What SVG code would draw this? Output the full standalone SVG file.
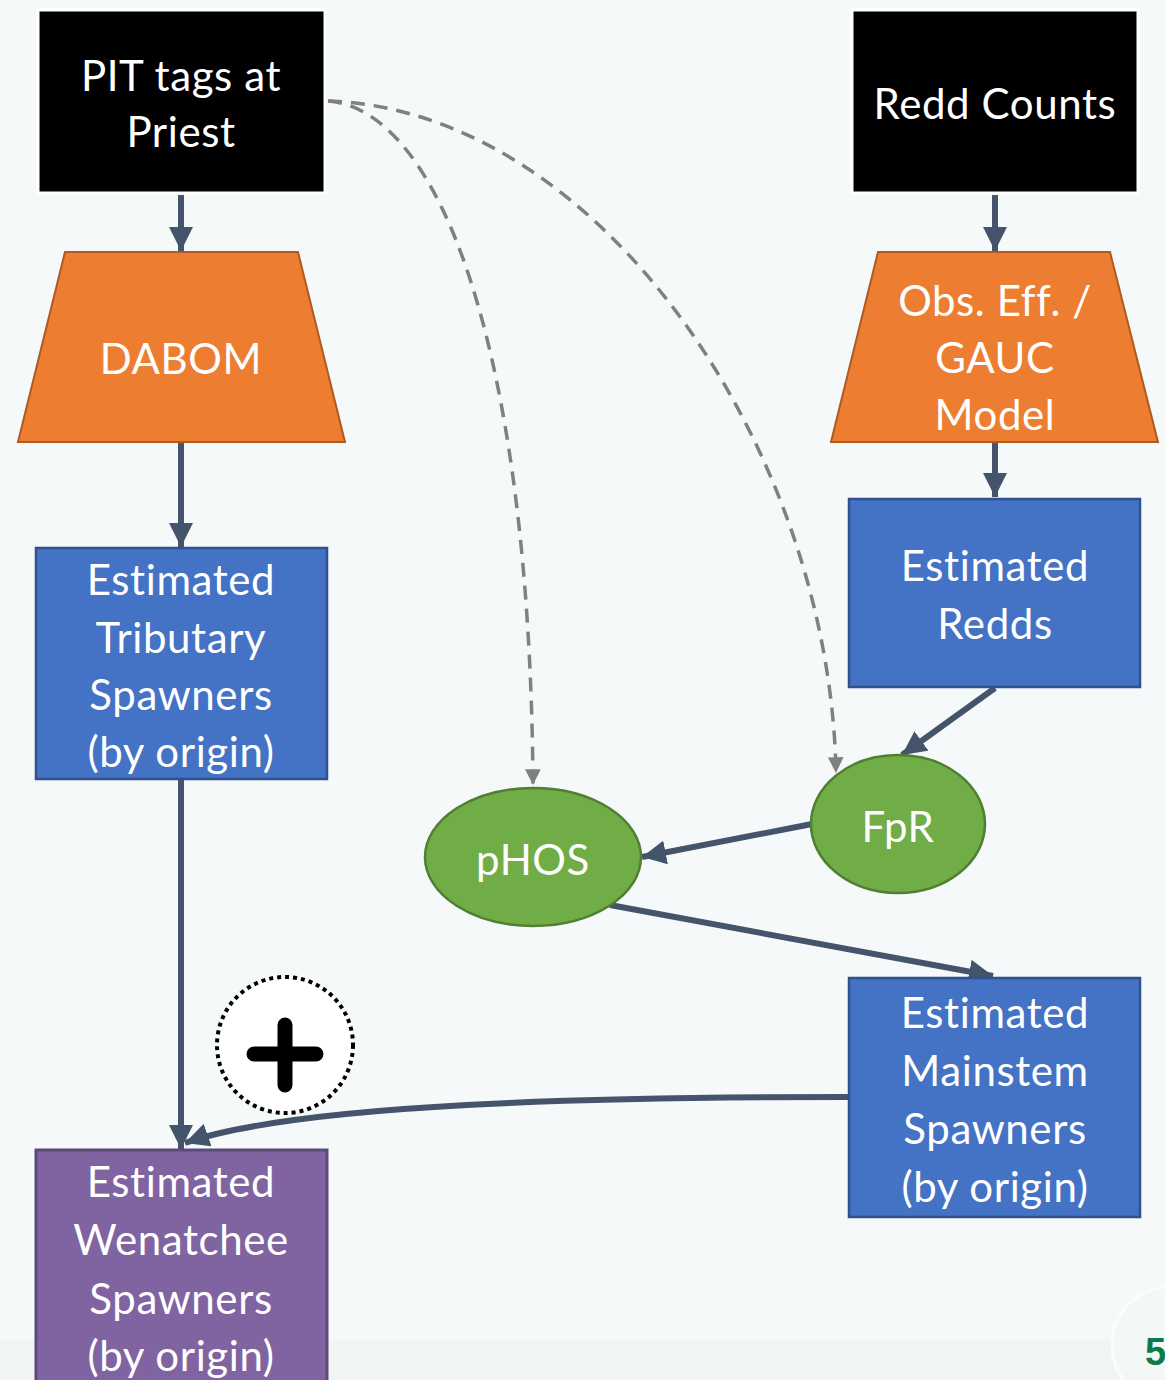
<svg xmlns="http://www.w3.org/2000/svg" width="1165" height="1380" viewBox="0 0 1165 1380">
<defs>
<marker id="ah" viewBox="0 0 10 10" refX="10" refY="5" markerWidth="4" markerHeight="4" orient="auto" markerUnits="strokeWidth"><path d="M0,0 L10,5 L0,10 z" fill="#44546a"/></marker>
<marker id="ahg" viewBox="0 0 10 10" refX="10" refY="5" markerWidth="4.5" markerHeight="4.5" orient="auto" markerUnits="strokeWidth"><path d="M0,0 L10,5 L0,10 z" fill="#808080"/></marker>
<style>
.t{font-family:Lato,"Open Sans","Liberation Sans",sans-serif;font-size:42px;letter-spacing:0.6px;fill:#fff;text-anchor:middle;dominant-baseline:central}
.c{stroke:#44546a;stroke-width:6;fill:none;marker-end:url(#ah)}
.d{stroke:#808080;stroke-width:3.5;fill:none;stroke-dasharray:14 9;marker-end:url(#ahg)}
.blk{fill:#000;stroke:#fff;stroke-width:3}
.org{fill:#ed7d31;stroke:#ae5a21;stroke-width:2}
.blu{fill:#4472c4;stroke:#2f528f;stroke-width:2.5}
.grn{fill:#70ad47;stroke:#507e32;stroke-width:2.5}
.pur{fill:#8064a2;stroke:#5c4a7a;stroke-width:3}
</style>
</defs>
<rect width="1165" height="1380" fill="#f5f9fa"/>
<rect y="1340" width="1165" height="40" fill="#f0f5f4"/>
<circle cx="1170" cy="1345" r="58" fill="#f3f8f7" stroke="#fbfdfd" stroke-width="3"/>
<text x="1145" y="1352" style="font-family:'Liberation Sans',sans-serif;font-weight:bold;font-size:38px;fill:#0e7a4a" dominant-baseline="central">5</text>

<g id="connectors">
<path class="d" d="M328,101 C440,110 530,350 533,785"/>
<path class="d" d="M328,101 C600,110 830,450 836,773"/>
<line class="c" x1="181" y1="195" x2="181" y2="251"/>
<line class="c" x1="181" y1="442" x2="181" y2="547"/>
<line class="c" x1="181" y1="779" x2="181" y2="1149"/>
<line class="c" x1="995" y1="195" x2="995" y2="251"/>
<line class="c" x1="995" y1="442" x2="995" y2="497"/>
<line class="c" x1="995" y1="688" x2="902" y2="755"/>
<line class="c" x1="812" y1="824" x2="642" y2="857"/>
<line class="c" x1="610" y1="905" x2="993" y2="976"/>
<path class="c" d="M849,1097 C600,1097 300,1103 185,1143"/>
</g>

<g id="pit"><rect class="blk" x="38" y="10" width="287" height="183"/><text class="t" x="181" y="75">PIT tags at</text><text class="t" x="181" y="131">Priest</text></g>
<g id="redd"><rect class="blk" x="852" y="10" width="286" height="183"/><text class="t" x="995" y="103">Redd Counts</text></g>
<g id="dabom"><polygon class="org" points="65,252 298,252 345,442 18,442"/><text class="t" x="181" y="358">DABOM</text></g>
<g id="obs"><polygon class="org" points="878,252 1110,252 1158,442 831,442"/><text class="t" x="995" y="300">Obs. Eff. /</text><text class="t" x="995" y="357">GAUC</text><text class="t" x="995" y="414">Model</text></g>
<g id="trib"><rect class="blu" x="36" y="548" width="291" height="231"/><text class="t" x="181" y="579">Estimated</text><text class="t" x="181" y="637">Tributary</text><text class="t" x="181" y="694">Spawners</text><text class="t" x="181" y="751">(by origin)</text></g>
<g id="redds"><rect class="blu" x="849" y="499" width="291" height="188"/><text class="t" x="995" y="565">Estimated</text><text class="t" x="995" y="623">Redds</text></g>
<g id="fpr"><ellipse class="grn" cx="898" cy="824" rx="87" ry="69"/><text class="t" x="898" y="826">FpR</text></g>
<g id="phos"><ellipse class="grn" cx="533" cy="857" rx="108" ry="69"/><text class="t" x="533" y="859">pHOS</text></g>
<g id="main"><rect class="blu" x="849" y="978" width="291" height="239"/><text class="t" x="995" y="1012">Estimated</text><text class="t" x="995" y="1070">Mainstem</text><text class="t" x="995" y="1128">Spawners</text><text class="t" x="995" y="1186">(by origin)</text></g>
<g id="wen"><rect class="pur" x="36" y="1150" width="291" height="240"/><text class="t" x="181" y="1181">Estimated</text><text class="t" x="181" y="1239">Wenatchee</text><text class="t" x="181" y="1298">Spawners</text><text class="t" x="181" y="1355">(by origin)</text></g>
<g id="plus"><circle cx="285" cy="1045" r="68" fill="#fff" stroke="#000" stroke-width="4" stroke-dasharray="4 4"/><path d="M285,1025 V1085 M254,1054 H316" stroke="#000" stroke-width="15" stroke-linecap="round"/></g>
</svg>
